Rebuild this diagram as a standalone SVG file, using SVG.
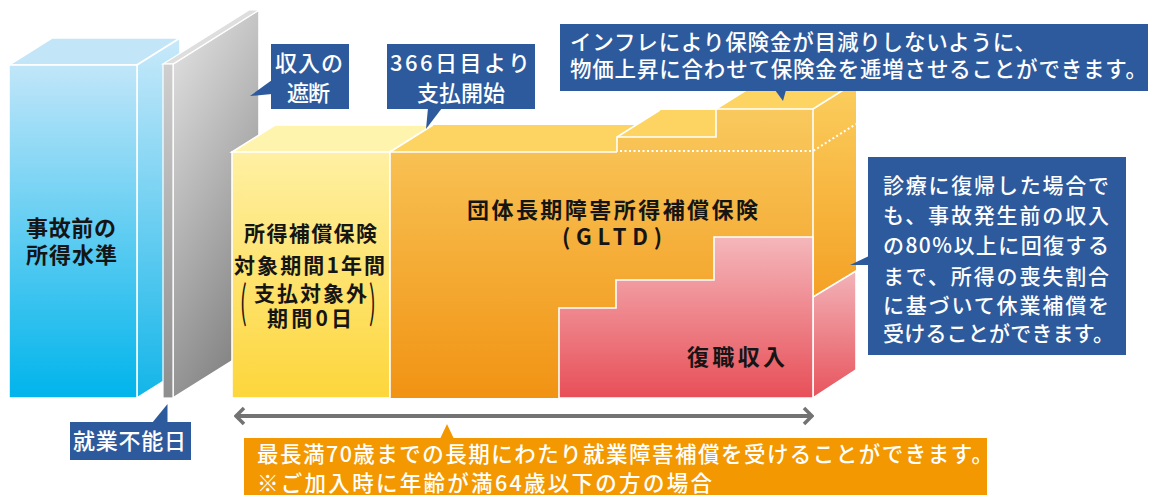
<svg xmlns="http://www.w3.org/2000/svg" width="1150" height="495" viewBox="0 0 1150 495">
<defs>
<style>
.lbl{font-family:"Noto Sans CJK JP","Noto Sans",sans-serif;font-weight:700;fill:#151515;}
.wt{font-family:"Noto Sans CJK JP","Noto Sans",sans-serif;font-weight:500;fill:#ffffff;}
.edge{fill:none;stroke:#ffffff;stroke-width:1.6;}
.dot{fill:none;stroke:#ffffff;stroke-width:2;stroke-dasharray:2 2.5;}
.navy{fill:#2d5a9d;}
.org{fill:#f39800;}
</style>
<linearGradient id="gBlueF" x1="0" y1="0" x2="0" y2="1"><stop offset="0" stop-color="#c1e6f9"/><stop offset="1" stop-color="#00b4eb"/></linearGradient>
<linearGradient id="gBlueS" x1="0" y1="0" x2="0" y2="1"><stop offset="0" stop-color="#c9e9fa"/><stop offset="1" stop-color="#12b5e9"/></linearGradient>
<linearGradient id="gGrayF" x1="0" y1="0" x2="0" y2="1"><stop offset="0" stop-color="#cfcfcf"/><stop offset="1" stop-color="#8e8e8e"/></linearGradient>
<linearGradient id="gGrayS" x1="0" y1="0" x2="0.4" y2="1"><stop offset="0" stop-color="#e6e6e6"/><stop offset="1" stop-color="#878787"/></linearGradient>
<linearGradient id="gYelF" x1="0" y1="0" x2="0" y2="1"><stop offset="0" stop-color="#fff0a3"/><stop offset="1" stop-color="#fdd63b"/></linearGradient>
<linearGradient id="gOrgF" gradientUnits="userSpaceOnUse" x1="0" y1="109" x2="0" y2="398"><stop offset="0" stop-color="#f9c95e"/><stop offset="1" stop-color="#f19313"/></linearGradient>
<linearGradient id="gOrgS" gradientUnits="userSpaceOnUse" x1="0" y1="82" x2="0" y2="297"><stop offset="0" stop-color="#fbce5e"/><stop offset="1" stop-color="#f4a125"/></linearGradient>
<linearGradient id="gPinkF" gradientUnits="userSpaceOnUse" x1="0" y1="237" x2="0" y2="398"><stop offset="0" stop-color="#f4b7bb"/><stop offset="1" stop-color="#e84f58"/></linearGradient>
<linearGradient id="gPinkS" gradientUnits="userSpaceOnUse" x1="0" y1="271" x2="0" y2="398"><stop offset="0" stop-color="#f2b3b8"/><stop offset="1" stop-color="#e8545d"/></linearGradient>
<marker id="chev" viewBox="0 0 12 20" refX="10" refY="10" markerUnits="userSpaceOnUse" markerWidth="12" markerHeight="20" orient="auto-start-reverse"><path d="M2,2 L10,10 L2,18" fill="none" stroke="#737373" stroke-width="3.5"/></marker>
</defs>
<rect width="1150" height="495" fill="#ffffff"/>

<g id="income-before">
<polygon points="9,65 52,38 180,38 137,65" fill="#c2e5f8" stroke="#ffffff" stroke-width="1.6"/>
<polygon points="137,65 180,38 180,371 137,398" fill="url(#gBlueS)" stroke="#ffffff" stroke-width="1.6"/>
<rect x="9" y="65" width="128" height="333" fill="url(#gBlueF)" stroke="#ffffff" stroke-width="1.6"/>
<text class="lbl" x="26" y="236" font-size="22" textLength="90" lengthAdjust="spacing">事故前の</text>
<text class="lbl" x="26" y="263" font-size="22" textLength="91" lengthAdjust="spacing">所得水準</text>
</g>

<g id="income-interruption">
<polygon points="173,64 259,10 259,344 173,398" fill="url(#gGrayS)" stroke="#ffffff" stroke-width="1.6"/>
<polygon points="163,64 249,10 259,10 173,64" fill="#dedede" stroke="#ffffff" stroke-width="1.2"/>
<rect x="163" y="64" width="10" height="334" fill="url(#gGrayF)" stroke="#ffffff" stroke-width="1.2"/>
</g>

<g id="income-protection">
<polygon points="232,152 275,125 433,125 390,152" fill="#fff4ae" stroke="#ffffff" stroke-width="1.6"/>
<rect x="232" y="152" width="158" height="246" fill="url(#gYelF)" stroke="#ffffff" stroke-width="1.6"/>
<text class="lbl" x="244" y="241" font-size="21" textLength="133" lengthAdjust="spacing">所得補償保険</text>
<text class="lbl" x="234" y="273" font-size="21" textLength="151" lengthAdjust="spacing">対象期間1年間</text>
<text class="lbl" x="254" y="301" font-size="21" textLength="113" lengthAdjust="spacing">支払対象外</text>
<text class="lbl" x="267" y="326" font-size="21" textLength="85" lengthAdjust="spacing">期間0日</text>
<text class="lbl" font-size="20" style="font-weight:400" transform="translate(240,318) scale(1,2.2)">(</text>
<text class="lbl" font-size="20" style="font-weight:400" transform="translate(369,318) scale(1,2.2)">)</text>
</g>

<g id="gltd">
<polygon points="390,152 433,125 660,125 617,152" fill="#fdd462"/>
<polygon points="617,137 660,110 759,110 716,137" fill="#fdd462"/>
<polygon points="716,109 759,82 856,82 813,109" fill="#fdd462"/>
<polygon points="813,109 856,82 856,271 813,297" fill="url(#gOrgS)"/>
<polygon points="390,152 617,152 617,137 716,137 716,109 813,109 813,398 390,398" fill="url(#gOrgF)"/>
<polyline class="edge" points="390,398 390,152 617,152"/>
<polyline class="edge" points="617,152 617,137 716,137 716,109 813,109 813,398"/>
<line class="edge" x1="390" y1="152" x2="433" y2="125"/>
<line class="edge" x1="617" y1="137" x2="660" y2="110"/>
<line class="edge" x1="716" y1="109" x2="759" y2="82"/>
<line class="edge" x1="813" y1="109" x2="856" y2="82"/>
<polyline class="dot" points="620,151 813,151 856,124"/>
<text class="lbl" x="467" y="218" font-size="22" textLength="291" lengthAdjust="spacing">団体長期障害所得補償保険</text>
<text class="lbl" x="562" y="245" font-size="22" textLength="100" lengthAdjust="spacing">(GLTD)</text>
</g>

<g id="return-income">
<polygon points="813,297 856,271 856,370 813,398" fill="url(#gPinkS)" stroke="#ffffff" stroke-width="1.6"/>
<polygon points="559,398 559,308 616,308 616,280 714,280 714,237 813,237 813,398" fill="url(#gPinkF)" stroke="#ffffff" stroke-width="1.6"/>
<text class="lbl" x="687" y="365" font-size="22" textLength="98" lengthAdjust="spacing">復職収入</text>
</g>

<g id="connectors">
<line x1="236" y1="416" x2="812" y2="416" stroke="#737373" stroke-width="4" marker-start="url(#chev)" marker-end="url(#chev)"/>
</g>

<g id="callout-interruption">
<polygon class="navy" points="272,80 250,96 272,94"/>
<rect class="navy" x="271" y="44" width="78" height="65"/>
<text class="wt" x="275" y="71" font-size="22" textLength="68" lengthAdjust="spacing">収入の</text>
<text class="wt" x="287" y="101" font-size="22" textLength="43" lengthAdjust="spacing">遮断</text>
</g>

<g id="callout-start">
<polygon class="navy" points="428,108 442,108 426,129"/>
<rect class="navy" x="387" y="44" width="148" height="65"/>
<text class="wt" x="390" y="71" font-size="22" textLength="140" lengthAdjust="spacing">366日目より</text>
<text class="wt" x="417" y="101" font-size="22" textLength="88" lengthAdjust="spacing">支払開始</text>
</g>

<g id="callout-inflation">
<polygon class="navy" points="775,90 786,90 783,101"/>
<rect class="navy" x="560" y="24" width="588" height="67"/>
<text class="wt" x="570" y="50" font-size="21.5" textLength="466" lengthAdjust="spacing">インフレにより保険金が目減りしないように、</text>
<text class="wt" x="570" y="77" font-size="21.5" textLength="577" lengthAdjust="spacing">物価上昇に合わせて保険金を逓増させることができます。</text>
</g>

<g id="callout-return">
<polygon class="navy" points="869,256 850,265 869,265"/>
<rect class="navy" x="868" y="157" width="258" height="198"/>
<text class="wt" x="883" y="193" font-size="21" textLength="226" lengthAdjust="spacing">診療に復帰した場合で</text>
<text class="wt" x="883" y="223" font-size="21" textLength="226" lengthAdjust="spacing">も、事故発生前の収入</text>
<text class="wt" x="883" y="253" font-size="21" textLength="226" lengthAdjust="spacing">の80%以上に回復する</text>
<text class="wt" x="883" y="284" font-size="21" textLength="226" lengthAdjust="spacing">まで、所得の喪失割合</text>
<text class="wt" x="883" y="313" font-size="21" textLength="226" lengthAdjust="spacing">に基づいて休業補償を</text>
<text class="wt" x="883" y="341" font-size="21" letter-spacing="0.2">受けることができます。</text>
</g>

<g id="callout-disability-day">
<polygon class="navy" points="152,423 167.5,404 167.5,423"/>
<rect class="navy" x="70" y="422" width="121" height="38"/>
<text class="wt" x="73" y="449" font-size="22" textLength="113" lengthAdjust="spacing">就業不能日</text>
</g>

<g id="callout-period">
<polygon class="org" points="440,439 447,424 454,439"/>
<rect class="org" x="244" y="438" width="743" height="57"/>
<text class="wt" x="257" y="462" font-size="21.5" textLength="736" lengthAdjust="spacing">最長満70歳までの長期にわたり就業障害補償を受けることができます。</text>
<text class="wt" x="257" y="491" font-size="21.5" textLength="455" lengthAdjust="spacing">※ご加入時に年齢が満64歳以下の方の場合</text>
</g>
</svg>
